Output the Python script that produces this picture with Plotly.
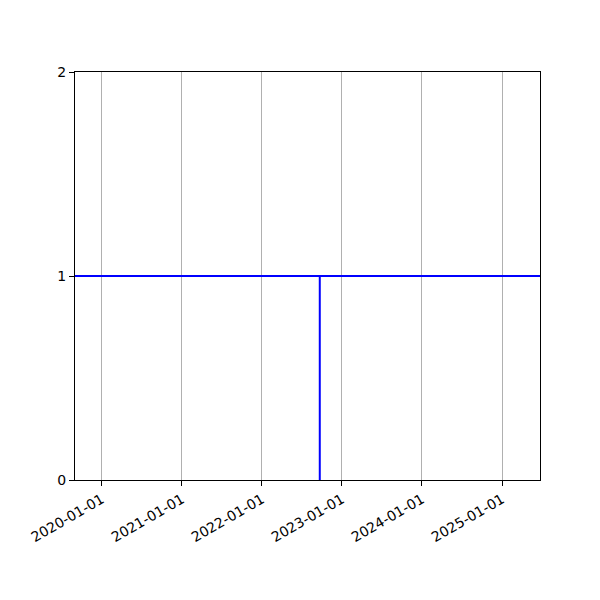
import plotly.graph_objects as go

# axis limits and ticks
x_limits = ["2019-09-01", "2025-06-23"]
x_ticks = ["2020-01-01", "2021-01-01", "2022-01-01", "2023-01-01", "2024-01-01", "2025-01-01"]
y_ticks = [0, 1, 2]

# the two lines
hline_y = 1
vline_date = "2022-09-22"
vline_y = [0, 1]

fig = go.Figure()

fig.add_trace(go.Scatter(
    x=x_limits,
    y=[hline_y, hline_y],
    mode="lines",
    line=dict(color="#0000ff", width=2),
    hoverinfo="skip",
))
fig.add_trace(go.Scatter(
    x=[vline_date, vline_date],
    y=vline_y,
    mode="lines",
    line=dict(color="#0000ff", width=2),
    hoverinfo="skip",
))

# page body adds an 8px offset, so margins are shifted to compensate
fig.update_layout(
    width=600,
    height=600,
    showlegend=False,
    plot_bgcolor="white",
    paper_bgcolor="white",
    margin=dict(l=67, r=68, t=64, b=128),
    font=dict(family="DejaVu Sans", size=14, color="black"),
)

fig.update_xaxes(
    type="date",
    range=x_limits,
    tickvals=x_ticks,
    ticktext=x_ticks,
    tickangle=-30,
    showgrid=True,
    gridcolor="#b0b0b0",
    gridwidth=1,
    ticks="outside",
    ticklen=5,
    tickcolor="black",
    showline=True,
    linecolor="black",
    linewidth=1,
    mirror=True,
    zeroline=False,
)
fig.update_yaxes(
    range=[0, 2],
    tickvals=y_ticks,
    showgrid=False,
    ticks="outside",
    ticklen=5,
    tickcolor="black",
    showline=True,
    linecolor="black",
    linewidth=1,
    mirror=True,
    zeroline=False,
)

fig.write_html("out.html")
